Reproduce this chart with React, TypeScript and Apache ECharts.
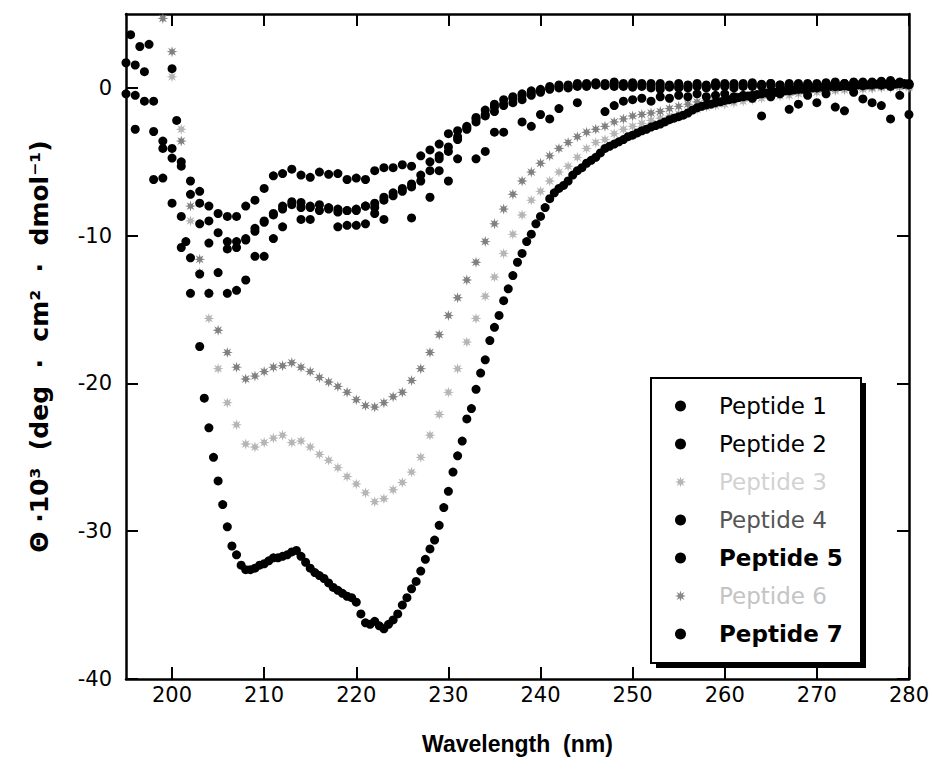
import React, { useEffect, useRef } from "react";
import * as echarts from "echarts";

// Wavelength grids (nm)
const nm = [
  195, 196, 197, 198, 199, 200, 201, 202, 203, 204, 205, 206, 207, 208, 209,
  210, 211, 212, 213, 214, 215, 216, 217, 218, 219, 220, 221, 222, 223, 224,
  225, 226, 227, 228, 229, 230, 231, 232, 233, 234, 235, 236, 237, 238, 239,
  240, 241, 242, 243, 244, 245, 246, 247, 248, 249, 250, 251, 252, 253, 254,
  255, 256, 257, 258, 259, 260, 261, 262, 263, 264, 265, 266, 267, 268, 269,
  270, 271, 272, 273, 274, 275, 276, 277, 278, 279, 280,
];
const nmFine = [
  195, 195.5, 196, 196.5, 197, 197.5, 198, 198.5, 199, 199.5,
  200, 200.5, 201, 201.5, 202, 202.5, 203, 203.5, 204, 204.5,
  205, 205.5, 206, 206.5, 207, 207.5, 208, 208.5, 209, 209.5,
  210, 210.5, 211, 211.5, 212, 212.5, 213, 213.5, 214, 214.5,
  215, 215.5, 216, 216.5, 217, 217.5, 218, 218.5, 219, 219.5,
  220, 220.5, 221, 221.5, 222, 222.5, 223, 223.5, 224, 224.5,
  225, 225.5, 226, 226.5, 227, 227.5, 228, 228.5, 229, 229.5,
  230, 230.5, 231, 231.5, 232, 232.5, 233, 233.5, 234, 234.5,
  235, 235.5, 236, 236.5, 237, 237.5, 238, 238.5, 239, 239.5,
  240, 240.5, 241, 241.5, 242, 242.5, 243, 243.5, 244, 244.5,
  245, 245.5, 246, 246.5, 247, 247.5, 248, 248.5, 249, 249.5,
  250, 250.5, 251, 251.5, 252, 252.5, 253, 253.5, 254, 254.5,
  255, 255.5, 256, 256.5, 257, 257.5, 258, 258.5, 259, 259.5,
  260, 260.5, 261, 261.5, 262, 262.5, 263, 263.5, 264, 264.5,
  265, 265.5, 266, 266.5, 267, 267.5, 268, 268.5, 269, 269.5,
  270, 270.5, 271, 271.5, 272, 272.5, 273, 273.5, 274, 274.5,
  275, 275.5, 276, 276.5, 277, 277.5, 278, 278.5, 279, 279.5,
  280,
];

// Mean residue ellipticity, 10^3 deg cm^2 dmol^-1
const peptide1 = [
  -0.4, -0.5, -0.9, -0.9, -3.6,
  -4.1, -5.3, -6.3, -7.0, -8.0,
  -8.5, -8.7, -8.7, -8.0, -7.6,
  -6.8, -5.95, -5.8, -5.5, -5.9,
  -6.05, -5.7, -5.85, -5.8, -6.2,
  -6.1, -6.2, -5.6, -5.4, -5.4,
  -5.2, -5.3, -4.6, -4.2, -3.8,
  -3.1, -2.9, -2.6, -2.1, -1.9,
  -1.6, -1.2, -1.0, -0.8, -0.5,
  -0.3, -0.1, 0.0, 0.1, 0.1,
  0.3, 0.35, 0.3, 0.4, 0.3,
  0.35, 0.2, 0.3, 0.3, 0.1,
  0.3, 0.2, 0.3, 0.2, 0.35,
  0.3, 0.2, 0.3, 0.35, 0.25,
  0.3, 0.2, 0.3, 0.2, 0.3,
  0.2, 0.35, 0.25, 0.3, 0.2,
  0.3, 0.4, 0.45, 0.35, 0.3,
  0.25,
];
const peptide2 = [
  1.7, 1.55, 1.1, -2.95, -4.1,
  -4.75, -5.0, -7.2, -7.8, -9.0,
  -9.8, -10.4, -10.4, -10.2, -9.7,
  -9.0, -8.5, -8.0, -7.7, -7.75,
  -8.0, -7.9, -8.1, -8.2, -8.3,
  -8.2, -8.0, -8.1, -7.6, -7.3,
  -7.0, -6.7, -6.3, -5.6, -4.8,
  -4.3, -3.5, -2.8, -2.3, -1.8,
  -1.3, -1.1, -0.7, -0.5, -0.3,
  -0.2, 0.0, 0.1, 0.0, 0.2,
  0.1, 0.2, 0.15, 0.1, 0.2,
  0.05, 0.1, 0.0, -0.1, 0.05,
  0.1, 0.0, 0.1, 0.1, 0.2,
  0.1, 0.0, 0.1, 0.2, 0.1,
  0.15, 0.2, 0.0, 0.1, 0.2,
  0.1, 0.2, 0.1, 0.2, 0.3,
  0.2, 0.3, 0.2, 0.1, 0.3,
  0.2,
];
const peptide3 = [
  null, null, null, null, null,
  0.75, -2.8, -9.0, -12.5, -15.6,
  -19.0, -21.3, -22.8, -24.1, -24.3,
  -24.0, -23.7, -23.5, -24.0, -23.9,
  -24.3, -24.8, -25.2, -25.7, -26.3,
  -26.8, -27.4, -28.0, -27.8, -27.2,
  -26.7, -26.0, -25.0, -23.5, -22.1,
  -20.6, -19.0, -17.2, -15.6, -14.1,
  -12.8, -11.2, -9.9, -8.6, -7.6,
  -7.0, -6.3, -5.7, -5.3, -4.7,
  -4.1, -3.7, -3.5, -3.1, -2.8,
  -2.6, -2.4, -2.2, -2.05, -1.9,
  -1.75, -1.6, -1.45, -1.3, -1.2,
  -1.1, -1.0, -0.9, -0.8, -0.7,
  -0.6, -0.55, -0.5, -0.4, -0.35,
  -0.3, -0.25, -0.2, -0.15, -0.1,
  -0.1, -0.05, 0.0, 0.0, 0.05,
  0.0,
];
const peptide4 = [
  null, null, null, null, null,
  null, -10.8, -11.5, -12.6, -13.9,
  null, -13.9, -13.7, -13.0, -11.4,
  -11.4, -10.2, -9.4, null, -8.9,
  -8.9, null, null, -9.4, -9.3,
  -9.3, -9.2, -8.5, -8.9, null,
  null, -8.8, null, -7.4, -5.6,
  -6.3, -4.8, null, -4.8, -4.3,
  -3.0, -3.0, null, -2.3, -2.6,
  -1.8, -2.1, -1.4, null, -1.0,
  null, null, -1.6, -1.2, -0.9,
  -0.8, -0.7, -0.9, -0.6, -0.7,
  -0.5, -0.6, -0.4, -0.6, -0.5,
  -0.4, -0.6, -0.5, -0.7, -1.9,
  -0.6, -0.4, -1.45, -1.1, -0.5,
  -1.0, -0.4, -1.3, -1.55, -0.3,
  -0.75, -1.0, -1.2, -2.1, -0.5,
  -1.8,
];
const peptide5 = [
  null, -2.8, null, -6.2, -6.1,
  -7.8, -8.7, null, -9.2, -10.5,
  -12.5, -10.9, -10.8, -10.3, -9.5,
  -9.1, -8.6, -8.2, -7.9, -8.1,
  -8.1, -8.3, -8.2, -8.4, -8.3,
  -8.3, -8.0, -7.8, -7.4, -7.1,
  -6.8, -6.5, -5.9, -5.0, -4.6,
  -4.0, -3.3, -2.7, -2.0, -1.5,
  -1.1, -0.8, -0.6, -0.4, -0.2,
  -0.1, 0.1, 0.2, 0.2, 0.3,
  0.2, 0.3, 0.2, 0.3, 0.1,
  0.2, 0.3, 0.2, 0.1, 0.2,
  0.0, 0.1, 0.2, 0.0, 0.1,
  0.2, 0.3, 0.2, 0.1, 0.2,
  0.3, 0.1, 0.2, 0.3, 0.1,
  0.3, 0.2, 0.4, 0.3, 0.4,
  0.4, 0.3, 0.4, 0.5, 0.4,
  0.3,
];
const peptide6 = [
  null, null, null, null, 4.7,
  2.45, -3.6, -8.0, -11.6, -13.9,
  -16.4, -17.9, -18.9, -19.7, -19.5,
  -19.2, -18.9, -18.8, -18.6, -18.9,
  -19.2, -19.6, -19.9, -20.2, -20.6,
  -21.1, -21.5, -21.6, -21.3, -20.9,
  -20.6, -19.8, -19.0, -17.9, -16.7,
  -15.4, -14.2, -13.0, -11.8, -10.4,
  -9.2, -8.2, -7.2, -6.3, -5.7,
  -5.1, -4.6, -4.1, -3.7, -3.3,
  -3.0, -2.8, -2.6, -2.3, -2.1,
  -1.9, -1.8, -1.7, -1.6, -1.4,
  -1.25, -1.1, -0.95, -0.85, -0.75,
  -0.65, -0.55, -0.5, -0.45, -0.4,
  -0.35, -0.3, -0.25, -0.2, -0.15,
  -0.1, -0.1, -0.05, 0.0, 0.0,
  0.05, 0.05, 0.1, 0.1, 0.15,
  0.1,
];
const peptide7 = [
  null, 3.6, null, 2.8, null, 2.95, null, null, null, null,
  1.3, -2.2, null, -10.4, -13.9, null, -17.5, -21.0, -23.0, -25.0,
  -26.6, -28.2, -29.7, -31.0, -31.6, -32.3, -32.6, -32.6, -32.5, -32.3,
  -32.2, -32.0, -31.8, -31.8, -31.7, -31.6, -31.4, -31.3, -31.7, -32.1,
  -32.5, -32.8, -33.0, -33.2, -33.5, -33.8, -34.0, -34.2, -34.4, -34.5,
  -34.8, -35.6, -36.2, -36.3, -36.1, -36.4, -36.6, -36.3, -36.0, -35.6,
  -35.0, -34.5, -33.9, -33.4, -32.7, -31.9, -31.2, -30.6, -29.6, -28.4,
  -27.3, -26.0, -24.9, -23.9, -22.4, -21.7, -20.4, -19.3, -18.4, -17.1,
  -16.2, -15.4, -14.4, -13.6, -12.7, -11.8, -11.2, -10.4, -9.9, -9.2,
  -8.7, -8.1, -7.5, -7.1, -6.8, -6.6, -6.3, -5.9, -5.6, -5.4,
  -5.1, -4.9, -4.7, -4.4, -4.1, -3.95, -3.8, -3.65, -3.5, -3.3,
  -3.2, -3.05, -2.9, -2.8, -2.65, -2.55, -2.45, -2.3, -2.15, -2.05,
  -1.95, -1.85, -1.7, -1.5, -1.35, -1.25, -1.15, -1.1, -1.0, -0.95,
  -0.85, -0.8, -0.75, -0.65, -0.6, -0.55, -0.5, -0.45, -0.4, -0.35,
  -0.3, -0.3, -0.25, -0.2, -0.2, -0.15, -0.1, -0.1, -0.05, 0.0,
  0.0, 0.05, 0.05, 0.1, 0.1, 0.1, 0.15, 0.1, 0.15, 0.2,
  0.15, 0.2, 0.2, 0.25, 0.2, 0.25, 0.3, 0.25, 0.3, 0.3,
  0.25,
];

const xTicks = [200, 210, 220, 230, 240, 250, 260, 270, 280];
const yTicks = [-40, -30, -20, -10, 0];
const seriesNames = ["Peptide 1", "Peptide 2", "Peptide 3", "Peptide 4", "Peptide 5", "Peptide 6", "Peptide 7"];

const STAR =
  "path://M10 5 L7.03 5.84 L8.54 8.54 L5.84 7.03 L5 10 L4.16 7.03 L1.46 8.54 L2.97 5.84 L0 5 L2.97 4.16 L1.46 1.46 L4.16 2.97 L5 0 L5.84 2.97 L8.54 1.46 L7.03 4.16 Z";

function pairs(xs: number[], ys: (number | null)[]) {
  const out: [number, number][] = [];
  for (let i = 0; i < xs.length; i++) {
    const y = ys[i];
    if (y !== null && y !== undefined) out.push([xs[i], y]);
  }
  return out;
}

export default function App() {
  const ref = useRef<HTMLDivElement>(null);
  useEffect(() => {
    if (!ref.current) return;
    const chart = echarts.init(ref.current, undefined, { renderer: "svg" });
    const FONT = "DejaVu Sans";
    const axisLineStyle = { color: "#000", width: 2.5 };
    const tickStyle = { color: "#000", width: 2 };

    const dot = (name: string, data: [number, number][]) => ({
      name,
      type: "scatter",
      data,
      symbol: "circle",
      symbolSize: 9,
      itemStyle: { color: "#000", opacity: 1 },
      z: 3,
    });
    const star = (name: string, data: [number, number][], color: string) => ({
      name,
      type: "scatter",
      data,
      symbol: STAR,
      symbolSize: 11,
      itemStyle: { color, opacity: 1 },
      z: 2,
    });

    chart.setOption({
      animation: false,
      backgroundColor: "#fff",
      grid: { left: 126, right: 21, top: 14, bottom: 94, containLabel: false },
      xAxis: [
        {
          type: "value",
          min: 195,
          max: 280,
          position: "bottom",
          axisLine: { onZero: false, lineStyle: axisLineStyle },
          axisTick: { inside: true, length: 12, customValues: xTicks, lineStyle: tickStyle },
          axisLabel: { customValues: xTicks, fontSize: 21, color: "#000", margin: 5, fontFamily: FONT },
          splitLine: { show: false },
          name: "Wavelength  (nm)",
          nameLocation: "middle",
          nameGap: 53,
          nameTextStyle: { fontSize: 23, fontWeight: "bold", color: "#000", fontFamily: "Liberation Sans" },
        },
        {
          type: "value",
          min: 195,
          max: 280,
          position: "top",
          axisLine: { onZero: false, lineStyle: axisLineStyle },
          axisTick: { inside: true, length: 12, customValues: xTicks, lineStyle: tickStyle },
          axisLabel: { show: false },
          splitLine: { show: false },
        },
      ],
      yAxis: [
        {
          type: "value",
          min: -40,
          max: 5,
          position: "left",
          axisLine: { onZero: false, lineStyle: axisLineStyle },
          axisTick: { inside: true, length: 12, customValues: yTicks, lineStyle: tickStyle },
          axisLabel: { customValues: yTicks, fontSize: 21, color: "#000", margin: 14, fontFamily: FONT },
          splitLine: { show: false },
          name: "Θ ·10³  (deg  ·  cm²  ·  dmol⁻¹)",
          nameLocation: "middle",
          nameGap: 74,
          nameTextStyle: { fontSize: 25, fontWeight: "bold", color: "#000", fontFamily: FONT },
        },
        {
          type: "value",
          min: -40,
          max: 5,
          position: "right",
          axisLine: { onZero: false, lineStyle: axisLineStyle },
          axisTick: { inside: true, length: 12, customValues: yTicks, lineStyle: tickStyle },
          axisLabel: { show: false },
          splitLine: { show: false },
        },
      ],
      graphic: [
        { type: "rect", z: 5, shape: { x: 656, y: 383, width: 210, height: 285 }, style: { fill: "#000" } },
        {
          type: "rect",
          z: 6,
          shape: { x: 651, y: 378, width: 210, height: 285 },
          style: { fill: "#fff", stroke: "#000", lineWidth: 2 },
        },
      ],
      legend: {
        orient: "vertical",
        left: 675,
        top: 394,
        padding: 0,
        itemWidth: 11,
        itemHeight: 11,
        itemGap: 14,
        z: 10,
        selectedMode: false,
        textStyle: { fontSize: 23, fontFamily: FONT, color: "#000", lineHeight: 24, padding: [0, 0, 0, 28] },
        data: [
          { name: seriesNames[0], icon: "circle", textStyle: { color: "#000", padding: [0, 0, 0, 28] } },
          { name: seriesNames[1], icon: "circle", textStyle: { color: "#000", padding: [0, 0, 0, 28] } },
          {
            name: seriesNames[2],
            icon: STAR,
            itemStyle: { color: "#b5b5b5" },
            textStyle: { color: "#d2d2d2", padding: [0, 0, 0, 28] },
          },
          { name: seriesNames[3], icon: "circle", textStyle: { color: "#555", padding: [0, 0, 0, 28] } },
          {
            name: seriesNames[4],
            icon: "circle",
            textStyle: { color: "#000", fontWeight: "bold", padding: [0, 0, 0, 28] },
          },
          {
            name: seriesNames[5],
            icon: STAR,
            itemStyle: { color: "#888" },
            textStyle: { color: "#c4c4c4", padding: [0, 0, 0, 28] },
          },
          {
            name: seriesNames[6],
            icon: "circle",
            textStyle: { color: "#000", fontWeight: "bold", padding: [0, 0, 0, 28] },
          },
        ],
      },
      series: [
        star(seriesNames[2], pairs(nm, peptide3), "#b5b5b5"),
        star(seriesNames[5], pairs(nm, peptide6), "#808080"),
        dot(seriesNames[0], pairs(nm, peptide1)),
        dot(seriesNames[1], pairs(nm, peptide2)),
        dot(seriesNames[3], pairs(nm, peptide4)),
        dot(seriesNames[4], pairs(nm, peptide5)),
        dot(seriesNames[6], pairs(nmFine, peptide7)),
      ],
    });
    return () => chart.dispose();
  }, []);
  return (
    <div
      ref={ref}
      style={{ position: "fixed", left: 0, top: 0, width: 932, height: 773, background: "#fff" }}
    />
  );
}
